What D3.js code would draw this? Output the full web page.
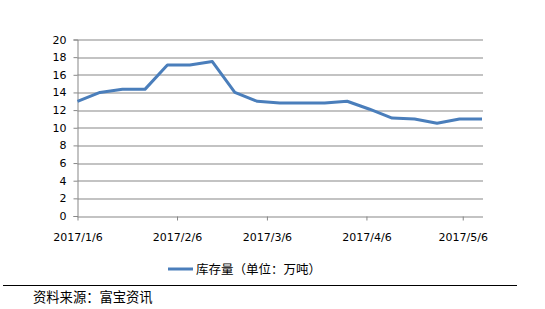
<!DOCTYPE html>
<html>
<head>
<meta charset="utf-8">
<script src="https://cdn.jsdelivr.net/npm/d3@7"></script>
<style>
  body { margin: 0; background: #fff; }
  svg { display: block; }
</style>
</head>
<body>
<div class="chart"></div>
<script>
// data (weekly stock, 万吨)
var dates = ["2017-01-06", "2017-01-13", "2017-01-20", "2017-01-27", "2017-02-03",
  "2017-02-10", "2017-02-17", "2017-02-24", "2017-03-03", "2017-03-10",
  "2017-03-17", "2017-03-24", "2017-03-31", "2017-04-07", "2017-04-14",
  "2017-04-21", "2017-04-28", "2017-05-05", "2017-05-12"];
var stock = [13.0, 14.0, 14.35, 14.35, 17.1, 17.1, 17.5, 14.0, 13.0, 12.8,
  12.8, 12.8, 13.0, 12.1, 11.1, 11.0, 10.5, 11.0, 11.0];
var tickDates = ["2017-01-06", "2017-02-06", "2017-03-06", "2017-04-06", "2017-05-06"];
var yTicks = [0, 2, 4, 6, 8, 10, 12, 14, 16, 18, 20];
var seriesName = "库存量（单位：万吨）";
var sourceText = "资料来源：富宝资讯";

var svgWidth = 545;
var svgHeight = 309;

// plot area
var margin = { top: 39.5, left: 77.5, right: 63, bottom: 93 };
var chartWidth = svgWidth - margin.left - margin.right;
var chartHeight = svgHeight - margin.top - margin.bottom;

var parse = d3.timeParse("%Y-%m-%d");
var fmt = d3.timeFormat("%Y/%-m/%-d");

var data = dates.map(function(d, i) {
  return { date: parse(d), value: stock[i] };
});

var svg = d3.select(".chart")
  .append("svg")
  .attr("width", svgWidth)
  .attr("height", svgHeight);

var chartGroup = svg.append("g")
  .attr("transform", `translate(${margin.left}, ${margin.top})`);

var xScale = d3.scaleTime()
  .domain(d3.extent(data, d => d.date))
  .range([0, chartWidth]);

var yScale = d3.scaleLinear()
  .domain([0, 20])
  .range([chartHeight, 0]);

// gridlines
chartGroup.append("g")
  .selectAll("line")
  .data(yTicks)
  .enter()
  .append("line")
  .attr("x1", 0)
  .attr("x2", chartWidth + 1)
  .attr("y1", d => Math.round(yScale(d)) + 0.5)
  .attr("y2", d => Math.round(yScale(d)) + 0.5)
  .attr("stroke", "#878787")
  .attr("stroke-width", 1);

// y axis
var leftAxis = d3.axisLeft(yScale)
  .tickValues(yTicks)
  .tickSize(4)
  .tickPadding(7);

var yAxisG = chartGroup.append("g").call(leftAxis);
yAxisG.select(".domain").attr("stroke", "#878787");
yAxisG.selectAll(".tick line").attr("stroke", "#878787");
yAxisG.selectAll(".tick text")
  .attr("font-family", "DejaVu Sans, Verdana, sans-serif")
  .attr("font-size", "11px")
  .attr("fill", "#000");

// x axis
var bottomAxis = d3.axisBottom(xScale)
  .tickValues(tickDates.map(parse))
  .tickFormat(fmt)
  .tickSize(4)
  .tickPadding(13);

var xAxisG = chartGroup.append("g")
  .attr("transform", `translate(0, ${Math.round(chartHeight)})`)
  .call(bottomAxis);
xAxisG.select(".domain").remove();
xAxisG.selectAll(".tick line").attr("stroke", "#878787");
xAxisG.selectAll(".tick text")
  .attr("font-family", "DejaVu Sans, Verdana, sans-serif")
  .attr("font-size", "11px")
  .attr("fill", "#000");

// the line
var line = d3.line()
  .x(d => xScale(d.date))
  .y(d => yScale(d.value));

chartGroup.append("path")
  .datum(data)
  .attr("d", line)
  .attr("fill", "none")
  .attr("stroke", "#4a7ebb")
  .attr("stroke-width", 3)
  .attr("stroke-linejoin", "round");

// legend
var legend = svg.append("g").attr("transform", "translate(168, 269)");
legend.append("line")
  .attr("x1", 0).attr("x2", 25)
  .attr("stroke", "#4a7ebb")
  .attr("stroke-width", 3);
legend.append("text")
  .attr("x", 28)
  .attr("y", 4.5)
  .attr("font-family", "Noto Sans CJK SC, sans-serif")
  .attr("font-size", "12.5px")
  .attr("fill", "#000")
  .text(seriesName);

// source note
svg.append("line")
  .attr("x1", 3).attr("x2", 517)
  .attr("y1", 285.5).attr("y2", 285.5)
  .attr("stroke", "#000")
  .attr("stroke-width", 1);
svg.append("text")
  .attr("x", 33)
  .attr("y", 302)
  .attr("font-family", "Noto Sans CJK SC, sans-serif")
  .attr("font-size", "13.3px")
  .attr("fill", "#000")
  .text(sourceText);
</script>
</body>
</html>
